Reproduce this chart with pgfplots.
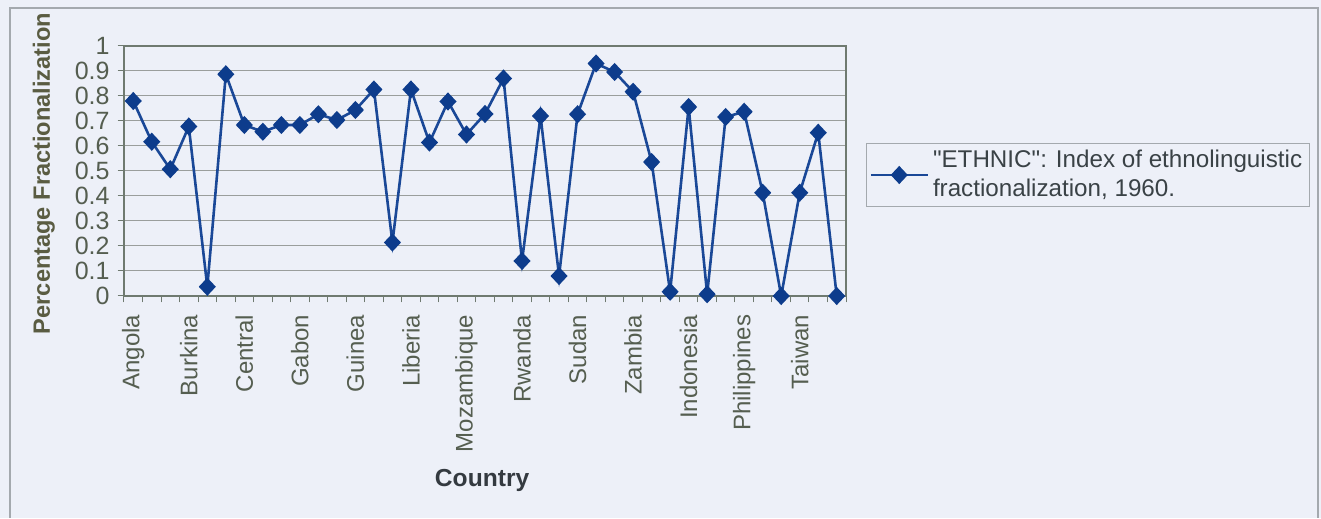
\documentclass[border=0pt]{standalone}
\usepackage{pgfplots}
\pgfplotsset{compat=1.18}
\usepackage{fontspec}
\setmainfont{Liberation Sans}[Ligatures=TeXOff]

\definecolor{bgcol}{HTML}{EDF0F8}
\definecolor{framecol}{HTML}{A4A9AE}
\definecolor{axiscol}{HTML}{6F7A70}
\definecolor{gridcol}{HTML}{9A9E9C}
\definecolor{seriescol}{HTML}{1A4897}
\definecolor{markcol}{HTML}{0D3C8C}
\definecolor{ticktext}{HTML}{555E50}
\definecolor{ylabcol}{HTML}{5A5C42}
\definecolor{xlabcol}{HTML}{343A40}
\definecolor{legtext}{HTML}{3A4246}

% ETHNIC index, one value per country (category index, value)
\pgfplotstableread{
idx  ethnic
0    0.780
1    0.617
2    0.507
3    0.678
4    0.037
5    0.887
6    0.684
7    0.657
8    0.684
9    0.684
10   0.727
11   0.704
12   0.744
13   0.826
14   0.214
15   0.826
16   0.614
17   0.778
18   0.646
19   0.728
20   0.870
21   0.140
22   0.720
23   0.080
24   0.727
25   0.930
26   0.896
27   0.817
28   0.536
29   0.017
30   0.756
31   0.007
32   0.716
33   0.737
34   0.413
35   0.000
36   0.413
37   0.653
38   0.000
}\ethnictable

\begin{document}
\begin{tikzpicture}
% page background and outer frame
\fill[bgcol] (0,0) rectangle (660.5pt,259pt);
\draw[framecol, line width=0.6pt] (5pt,0) -- (5pt,255pt) -- (659pt,255pt) -- (659pt,0);
\useasboundingbox (0,0) rectangle (660.5pt,259pt);

\begin{axis}[
  at={(62pt,111pt)}, anchor=south west,
  scale only axis,
  width=361pt, height=125pt,
  xmin=-0.5, xmax=38.5,
  ymin=0, ymax=1,
  ytick={0,0.1,...,1.0},
  yticklabels={0,0.1,0.2,0.3,0.4,0.5,0.6,0.7,0.8,0.9,1},
  xtick={-0.5,0.5,...,38.5},
  xticklabels={},
  extra x ticks={0,3,...,36},
  extra x tick labels={Angola,Burkina,Central,Gabon,Guinea,Liberia,Mozambique,Rwanda,Sudan,Zambia,Indonesia,Philippines,Taiwan},
  extra x tick style={major tick length=0pt, grid=none},
  xtick pos=bottom, ytick pos=left,
  tick align=outside,
  major tick length=3.2pt,
  axis line style={axiscol, line width=0.6pt},
  tick style={axiscol, line width=0.5pt},
  ymajorgrids,
  major grid style={gridcol, line width=0.5pt},
  axis background/.style={fill=bgcol},
  font=\fontsize{12}{14}\selectfont,
  tick label style={ticktext},
  yticklabel style={font=\fontsize{12.5}{14}\selectfont, xshift=-0.5pt},
  xticklabel style={rotate=90, anchor=east, xshift=-5.8pt, font=\fontsize{12}{14}\selectfont},
  ylabel={\bfseries Percentage Fractionalization},
  xlabel={\bfseries Country},
  every axis y label/.style={at={(axis description cs:-0.111,0.49)}, rotate=90, anchor=center, ylabcol, font=\fontsize{11.8}{14}\selectfont},
  every axis x label/.style={at={(axis description cs:0.496,-0.736)}, anchor=center, xlabcol, font=\fontsize{12.3}{14}\selectfont},
  legend style={
    at={(1.0277,0.484)}, anchor=west,
    draw=framecol, line width=0.5pt, fill=bgcol,
    font=\fontsize{12.1}{14.5}\selectfont, text=legtext,
    nodes={align=left},
    inner xsep=1.5pt, inner ysep=1.5pt,
  },
  legend cell align=left,
  legend image code/.code={
    \draw[mark repeat=2, mark phase=2] plot coordinates {(0cm,0cm) (0.5cm,0cm) (1.0cm,0cm)};
  },
]
\addplot[seriescol, line width=1.3pt, mark=diamond*, mark size=3.6pt,
  mark options={fill=markcol, draw=markcol, xscale=1.25}]
  table[x=idx, y=ethnic] {\ethnictable};
\addlegendentry{"ETHNIC": Index of ethnolinguistic\\fractionalization, 1960.}
\end{axis}
\end{tikzpicture}
\end{document}
